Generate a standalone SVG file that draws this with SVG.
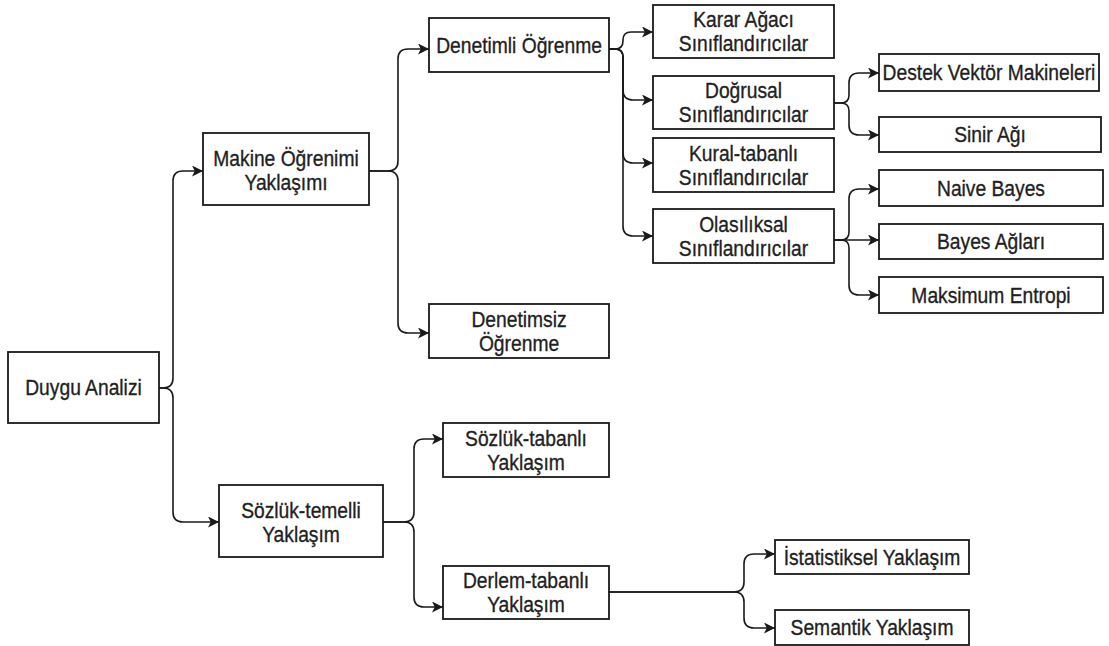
<svg xmlns="http://www.w3.org/2000/svg" width="1109" height="646" viewBox="0 0 1109 646">
<defs>
<style>
.box{fill:#fff;stroke:#1a1a1a;stroke-width:1.8}
.t{font-family:"Liberation Sans",Arial,sans-serif;font-size:22px;fill:#1f1f1f;stroke:#1f1f1f;stroke-width:0.35;text-anchor:middle}
.e{fill:none;stroke:#1a1a1a;stroke-width:1.6}
</style>
<marker id="ah" viewBox="0 0 10 10" refX="10" refY="5" markerWidth="12" markerHeight="11" markerUnits="userSpaceOnUse" orient="auto">
<path d="M0,0 L10,5 L0,10 L2.5,5 z" fill="#1a1a1a"/>
</marker>
</defs>
<rect width="1109" height="646" fill="#fff"/>
<g id="connectors">
<path class="e" marker-end="url(#ah)" d="M159,388 H163 Q173,388 173,378 V181 Q173,171 183,171 H203"/>
<path class="e" marker-end="url(#ah)" d="M159,388 H163 Q173,388 173,398 V512 Q173,522 183,522 H219"/>
<path class="e" marker-end="url(#ah)" d="M369,171 H388 Q398,171 398,161 V59 Q398,49 408,49 H429"/>
<path class="e" marker-end="url(#ah)" d="M369,171 H388 Q398,171 398,181 V323 Q398,333 408,333 H429"/>
<path class="e" marker-end="url(#ah)" d="M609,49 H615 Q623,49 623,41 V40 Q623,32 631,32 H653"/>
<path class="e" marker-end="url(#ah)" d="M609,49 H615 Q623,49 623,57 V90 Q623,100 633,100 H653"/>
<path class="e" marker-end="url(#ah)" d="M609,49 H615 Q623,49 623,57 V153 Q623,163 633,163 H653"/>
<path class="e" marker-end="url(#ah)" d="M609,49 H615 Q623,49 623,57 V226 Q623,236 633,236 H653"/>
<path class="e" marker-end="url(#ah)" d="M834,103 H841 Q849,103 849,95 V83 Q849,73 859,73 H879"/>
<path class="e" marker-end="url(#ah)" d="M834,103 H841 Q849,103 849,111 V125 Q849,135 859,135 H879"/>
<path class="e" marker-end="url(#ah)" d="M834,240 H841 Q849,240 849,232 V199 Q849,189 859,189 H879"/>
<path class="e" marker-end="url(#ah)" d="M834,240 H879"/>
<path class="e" marker-end="url(#ah)" d="M834,240 H841 Q849,240 849,248 V285 Q849,295 859,295 H879"/>
<path class="e" marker-end="url(#ah)" d="M383,522 H404 Q414,522 414,512 V449 Q414,439 424,439 H443"/>
<path class="e" marker-end="url(#ah)" d="M383,522 H404 Q414,522 414,532 V597 Q414,607 424,607 H443"/>
<path class="e" marker-end="url(#ah)" d="M609,592 H734 Q744,592 744,582 V564 Q744,554 754,554 H775"/>
<path class="e" marker-end="url(#ah)" d="M609,592 H734 Q744,592 744,602 V618 Q744,628 754,628 H775"/>
</g>
<g id="duygu"><rect class="box" x="8" y="352" width="151" height="71"/><text class="t" transform="matrix(0.875,0,0,1,83.5,0)" x="0" y="395.5">Duygu Analizi</text></g>
<g id="makine"><rect class="box" x="203" y="133" width="166" height="72"/><text class="t" transform="matrix(0.875,0,0,1,286,0)"><tspan x="0" y="166">Makine Öğrenimi</tspan><tspan x="0" y="190">Yaklaşımı</tspan></text></g>
<g id="denetimli"><rect class="box" x="429" y="18" width="180" height="54"/><text class="t" transform="matrix(0.875,0,0,1,519,0)" x="0" y="53">Denetimli Öğrenme</text></g>
<g id="denetimsiz"><rect class="box" x="429" y="304" width="180" height="54"/><text class="t" transform="matrix(0.875,0,0,1,519,0)"><tspan x="0" y="327">Denetimsiz</tspan><tspan x="0" y="351">Öğrenme</tspan></text></g>
<g id="karar"><rect class="box" x="653" y="5" width="181" height="53"/><text class="t" transform="matrix(0.875,0,0,1,743.5,0)"><tspan x="0" y="27.5">Karar Ağacı</tspan><tspan x="0" y="51.5">Sınıflandırıcılar</tspan></text></g>
<g id="dogrusal"><rect class="box" x="653" y="76" width="181" height="53"/><text class="t" transform="matrix(0.875,0,0,1,743.5,0)"><tspan x="0" y="98.5">Doğrusal</tspan><tspan x="0" y="122.5">Sınıflandırıcılar</tspan></text></g>
<g id="kural"><rect class="box" x="653" y="138" width="181" height="54"/><text class="t" transform="matrix(0.875,0,0,1,743.5,0)"><tspan x="0" y="161">Kural-tabanlı</tspan><tspan x="0" y="185">Sınıflandırıcılar</tspan></text></g>
<g id="olasiliksal"><rect class="box" x="653" y="209" width="181" height="54"/><text class="t" transform="matrix(0.875,0,0,1,743.5,0)"><tspan x="0" y="232">Olasılıksal</tspan><tspan x="0" y="256">Sınıflandırıcılar</tspan></text></g>
<g id="destek"><rect class="box" x="879" y="54" width="220" height="37"/><text class="t" transform="matrix(0.875,0,0,1,989,0)" x="0" y="80.5">Destek Vektör Makineleri</text></g>
<g id="sinir"><rect class="box" x="879" y="117" width="222" height="35"/><text class="t" transform="matrix(0.875,0,0,1,990,0)" x="0" y="142.5">Sinir Ağı</text></g>
<g id="naive"><rect class="box" x="879" y="170" width="224" height="36"/><text class="t" transform="matrix(0.875,0,0,1,991,0)" x="0" y="196">Naive Bayes</text></g>
<g id="bayes"><rect class="box" x="879" y="224" width="224" height="35"/><text class="t" transform="matrix(0.875,0,0,1,991,0)" x="0" y="249.5">Bayes Ağları</text></g>
<g id="maksimum"><rect class="box" x="879" y="277" width="224" height="36"/><text class="t" transform="matrix(0.875,0,0,1,991,0)" x="0" y="303">Maksimum Entropi</text></g>
<g id="sozluk-temelli"><rect class="box" x="219" y="485" width="164" height="72"/><text class="t" transform="matrix(0.875,0,0,1,301,0)"><tspan x="0" y="518">Sözlük-temelli</tspan><tspan x="0" y="542">Yaklaşım</tspan></text></g>
<g id="sozluk-tabanli"><rect class="box" x="443" y="423" width="166" height="54"/><text class="t" transform="matrix(0.875,0,0,1,526,0)"><tspan x="0" y="446">Sözlük-tabanlı</tspan><tspan x="0" y="470">Yaklaşım</tspan></text></g>
<g id="derlem"><rect class="box" x="443" y="566" width="166" height="53"/><text class="t" transform="matrix(0.875,0,0,1,526,0)"><tspan x="0" y="588.5">Derlem-tabanlı</tspan><tspan x="0" y="612.5">Yaklaşım</tspan></text></g>
<g id="istatistiksel"><rect class="box" x="775" y="540" width="194" height="34"/><text class="t" transform="matrix(0.875,0,0,1,872,0)" x="0" y="565">İstatistiksel Yaklaşım</text></g>
<g id="semantik"><rect class="box" x="775" y="610" width="194" height="35"/><text class="t" transform="matrix(0.875,0,0,1,872,0)" x="0" y="635.5">Semantik Yaklaşım</text></g>
</svg>
